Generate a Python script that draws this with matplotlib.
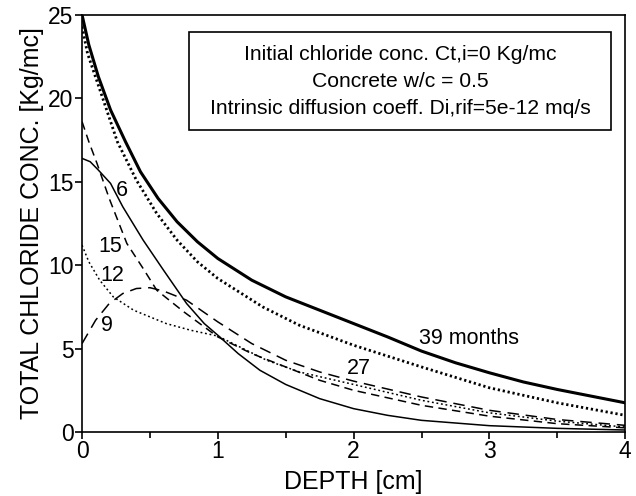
import matplotlib
matplotlib.use("Agg")
import matplotlib.pyplot as plt
from matplotlib.ticker import MultipleLocator

plt.rcParams["font.family"] = ["Liberation Sans", "DejaVu Sans"]

# Chloride profiles, depth [cm] vs total chloride [Kg/mc], one per exposure time
depth_39 = [0, 0.05, 0.12, 0.21, 0.32, 0.43, 0.56, 0.7, 0.85, 1.0, 1.25, 1.5,
            1.75, 2.0, 2.25, 2.5, 2.75, 3.0, 3.25, 3.5, 3.75, 4.0]
conc_39 = [25.0, 23.2, 21.3, 19.3, 17.4, 15.6, 14.0, 12.6, 11.4, 10.4, 9.1, 8.1,
           7.3, 6.5, 5.7, 4.85, 4.15, 3.55, 3.0, 2.55, 2.15, 1.75]

depth_27 = [0, 0.04, 0.14, 0.26, 0.4, 0.55, 0.7, 0.85, 1.0, 1.33, 1.6, 2.0,
            2.5, 3.0, 3.5, 4.0]
conc_27 = [24.3, 22.7, 20.3, 17.4, 15.1, 13.1, 11.5, 10.2, 9.2, 7.5, 6.4, 5.2,
           3.9, 2.65, 1.75, 1.0]

depth_15 = [0, 0.05, 0.11, 0.2, 0.33, 0.45, 0.55, 0.75, 1.0, 1.25, 1.5, 1.75,
            2.0, 2.5, 3.0, 3.5, 4.0]
conc_15 = [18.6, 17.4, 16.1, 14.0, 11.3, 9.8, 8.5, 7.2, 5.7, 4.7, 3.9, 3.1,
           2.5, 1.6, 0.95, 0.5, 0.25]

depth_12 = [0, 0.05, 0.13, 0.23, 0.38, 0.5, 0.62, 0.8, 1.0, 1.36, 1.6, 2.0,
            2.5, 3.0, 3.5, 4.0]
conc_12 = [11.2, 10.2, 9.1, 8.1, 7.3, 6.9, 6.5, 6.1, 5.75, 4.3, 3.6, 2.85,
           1.9, 1.15, 0.65, 0.3]

depth_9 = [0, 0.05, 0.1, 0.2, 0.3, 0.4, 0.5, 0.6, 0.77, 1.0, 1.25, 1.5, 1.75,
           2.0, 2.5, 3.0, 3.5, 4.0]
conc_9 = [5.3, 6.0, 6.7, 7.7, 8.3, 8.6, 8.65, 8.45, 7.9, 6.6, 5.3, 4.3, 3.6,
          3.05, 2.1, 1.3, 0.75, 0.4]

depth_6 = [0, 0.06, 0.12, 0.21, 0.3, 0.45, 0.6, 0.77, 0.9, 1.0, 1.15, 1.31,
           1.5, 1.75, 2.0, 2.25, 2.5, 3.0, 3.5, 4.0]
conc_6 = [16.4, 16.2, 15.7, 14.9, 13.5, 11.5, 9.7, 7.7, 6.5, 5.8, 4.7, 3.7,
          2.85, 2.0, 1.4, 1.0, 0.7, 0.38, 0.22, 0.12]

# Curve labels (text, depth, conc)
curve_labels = [("6", 0.29, 14.5), ("15", 0.21, 11.1), ("12", 0.22, 9.4),
                ("9", 0.18, 6.4), ("27", 2.04, 3.8), ("39 months", 2.85, 5.6)]

box_lines = ["Initial chloride conc. Ct,i=0 Kg/mc",
             "Concrete w/c = 0.5",
             "Intrinsic diffusion coeff. Di,rif=5e-12 mq/s"]

fig = plt.figure(figsize=(6.36, 4.96), dpi=100)
ax = fig.add_axes([0.129, 0.129, 0.854, 0.841])

ax.plot(depth_39, conc_39, color="black", lw=2.2, solid_capstyle="butt")
ax.plot(depth_27, conc_27, color="black", lw=2.0, linestyle=(0, (0.8, 1.0)))
ax.plot(depth_15, conc_15, color="black", lw=1.1, linestyle=(0, (5.5, 3.5)))
ax.plot(depth_12, conc_12, color="black", lw=1.1, linestyle=(0, (1.2, 1.8)))
ax.plot(depth_9, conc_9, color="black", lw=1.1, linestyle=(0, (7.5, 4.5)))
ax.plot(depth_6, conc_6, color="black", lw=1.1)

for txt, x, y in curve_labels:
    ax.text(x, y, txt, fontsize=15.5, ha="center", va="center")

# Simulation parameters in a framed box
box = plt.Rectangle((0.197, 0.724), 0.777, 0.235, transform=ax.transAxes,
                    fill=False, lw=1.2, color="black")
ax.add_patch(box)
for i, line in enumerate(box_lines):
    ax.text(0.586, 0.905 - i * 0.065, line, transform=ax.transAxes,
            fontsize=15.2, ha="center", va="center")

ax.set_xlim(0, 4)
ax.set_ylim(0, 25)
ax.xaxis.set_major_locator(MultipleLocator(1))
ax.xaxis.set_minor_locator(MultipleLocator(0.5))
ax.yaxis.set_major_locator(MultipleLocator(5))
ax.tick_params(which="major", direction="out", length=5, width=1.2,
               labelsize=16.5, pad=1)
ax.tick_params(which="minor", direction="out", length=4, width=1.2)
for s in ax.spines.values():
    s.set_linewidth(1.2)

ax.set_xlabel("DEPTH [cm]", fontsize=18, labelpad=5)
ax.set_ylabel("TOTAL CHLORIDE CONC. [Kg/mc]", fontsize=18, labelpad=3)

fig.savefig("out.png", dpi=100)
